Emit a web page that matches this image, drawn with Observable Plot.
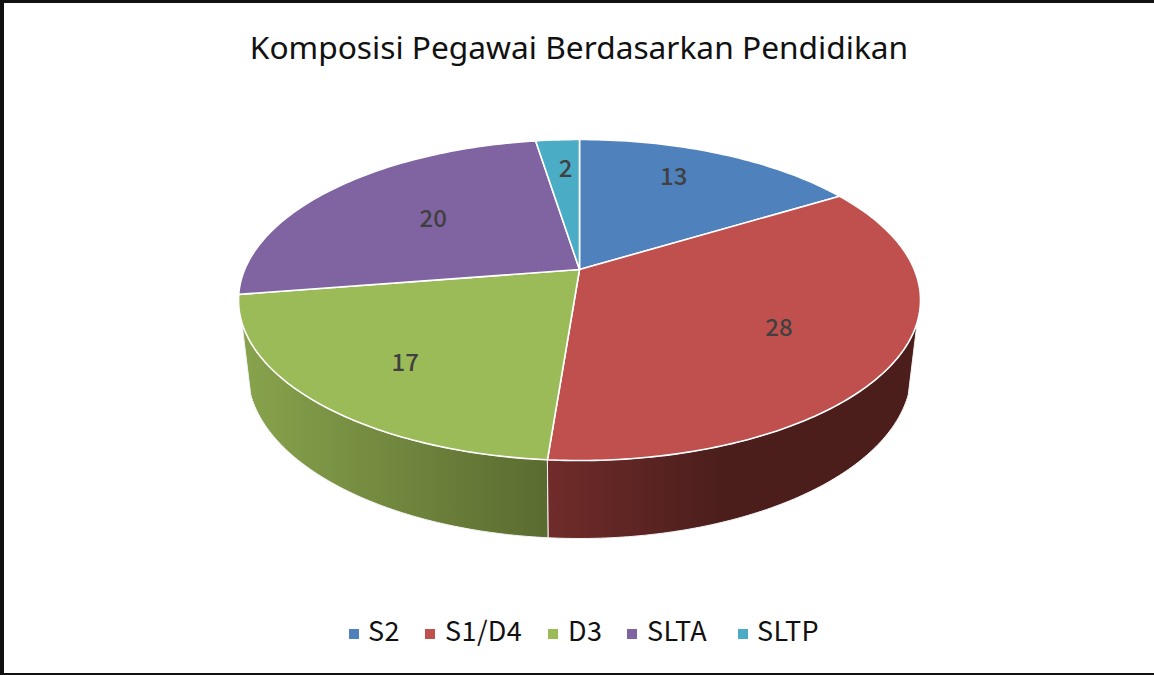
<!DOCTYPE html>
<html>
<head>
<meta charset="utf-8">
<script src="https://cdn.jsdelivr.net/npm/d3@7"></script>
<script src="https://cdn.jsdelivr.net/npm/@observablehq/plot@0.6"></script>
<style>
  html, body { margin: 0; padding: 0; background: #fff; }
  #frame { position: relative; width: 1154px; height: 675px; box-sizing: border-box; overflow: hidden;
           border-top: 3px solid #111; border-left: 4px solid #111; border-bottom: 2px solid #111; }
  #title { position: absolute; left: -4px; top: 22px; width: 1154px; text-align: center; padding-left: 4px; box-sizing: border-box;
           font: 400 31.7px "Noto Sans", sans-serif; color: #111; white-space: nowrap; }
  #chart { position: absolute; left: -4px; top: 97px; }
  #chart svg { display: block; }
  #legend { position: absolute; left: -4px; top: 608px; width: 1154px; height: 40px;
            font: 400 27px "Noto Sans CJK JP", sans-serif; letter-spacing: 0.4px; color: #111; }
  #legend span { position: absolute; top: 0; line-height: 38px; white-space: nowrap; }
  #legend i { position: absolute; top: 18px; width: 10px; height: 10px; }
</style>
</head>
<body>
<div id="frame">
  <div id="title"></div>
  <div id="chart"></div>
  <div id="legend"></div>
</div>
<script>
const chartTitle = "Komposisi Pegawai Berdasarkan Pendidikan";
const categories = ["S2", "S1/D4", "D3", "SLTA", "SLTP"];
const counts = [13, 28, 17, 20, 2];
// Sweep of each slice on the drawn ellipse (degrees).
const sweeps = [49.7, 135.7, 86.6, 80.6, 7.4];
const colors = ["#4f81bd", "#c0504d", "#9bbb59", "#8064a2", "#4bacc6"];

// Layout of the perspective pie
const W = 1154, H = 500, offsetTop = 100;
const cx = 579, cy = 299.5 - offsetTop, rx = 341, ry = 160.5;
const hubV = 30.5 / ry;                       // the hub sits above the ellipse centre
const rimScaleU = 332 / rx, rimScaleV = 167 / ry, rimShiftV = -71.5 / ry;
const labelReachU = [0.657, 0.66, 0.68, 0.58, 0.63];
const labelReachV = [0.80, 0.56, 0.69, 0.65, 0.77];
const legendSwatchX = [349, 425, 548, 627, 738];
const legendTextX = [368, 445, 568, 647, 757];

const rad = d => d * Math.PI / 180;
const top3 = phi => ({u: Math.sin(rad(phi)), v: Math.cos(rad(phi))});
const rim = phi => ({u: rimScaleU * Math.sin(rad(phi)), v: rimShiftV + rimScaleV * Math.cos(rad(phi))});
const arc = (from, to, fn) => {
  const n = Math.max(2, Math.ceil(Math.abs(to - from)));
  return d3.range(n + 1).map(i => fn(from + (to - from) * i / n));
};

let cum = 0;
const slices = categories.map((name, i) => {
  const start = cum; cum += sweeps[i];
  return {name, value: counts[i], start, end: cum, mid: (start + cum) / 2, i};
});

const faces = slices.flatMap(s => {
  const ring = [{u: 0, v: hubV}, ...arc(s.start, s.end, top3), {u: 0, v: hubV}];
  return ring.map(p => ({...p, name: s.name}));
});

const silhouette = 98;  // where the side wall meets the outline, on each side
const wall = (name, from, to) => {
  const ring = [...arc(from, to, top3), ...arc(to, from, rim)];
  ring.push(ring[0]);
  return ring.map(p => ({...p, name}));
};
const redWall = wall("S1/D4", silhouette, slices[1].end);
const greenWall = wall("D3", slices[2].start, 360 - silhouette);

const labels = slices.map(s => ({
  value: s.value,
  u: labelReachU[s.i] * Math.sin(rad(s.mid)),
  v: hubV + labelReachV[s.i] * (Math.cos(rad(s.mid)) - hubV)
}));

function gradients() {
  const ns = "http://www.w3.org/2000/svg";
  const defs = document.createElementNS(ns, "defs");
  const add = (id, stops) => {
    const g = document.createElementNS(ns, "linearGradient");
    g.setAttribute("id", id);
    stops.forEach(([o, c]) => {
      const st = document.createElementNS(ns, "stop");
      st.setAttribute("offset", o);
      st.setAttribute("stop-color", c);
      g.appendChild(st);
    });
    defs.appendChild(g);
  };
  add("wallRed", [[0, "#702c2a"], [0.47, "#4b1e1c"], [1, "#4b1e1c"]]);
  add("wallGreen", [[0, "#88a34c"], [1, "#5a6b30"]]);
  return defs;
}

const chart = Plot.plot({
  width: W, height: H,
  marginTop: 0, marginRight: 0, marginBottom: 0, marginLeft: 0,
  x: {domain: [-1, 1], range: [cx - rx, cx + rx], axis: null},
  y: {domain: [-1, 1], range: [cy + ry, cy - ry], axis: null},
  color: {domain: categories, range: colors},
  style: {background: "transparent", overflow: "visible"},
  marks: [
    gradients,
    Plot.line(greenWall, {x: "u", y: "v", fill: "url(#wallGreen)", stroke: "#f4f4f4", strokeWidth: 1, strokeLinejoin: "round"}),
    Plot.line(redWall, {x: "u", y: "v", fill: "url(#wallRed)", stroke: "#f4f4f4", strokeWidth: 1, strokeLinejoin: "round"}),
    Plot.line(faces, {x: "u", y: "v", z: "name", fill: "name", stroke: "#fff", strokeWidth: 1.6, strokeLinejoin: "round"}),
    Plot.text(labels, {x: "u", y: "v", text: d => String(d.value), fill: "#404040", fontSize: 24, fontWeight: 500,
                       fontFamily: "'Noto Sans CJK JP', sans-serif"})
  ]
});
document.getElementById("chart").appendChild(chart);
document.getElementById("title").textContent = chartTitle;

const legend = document.getElementById("legend");
categories.forEach((name, i) => {
  const sw = document.createElement("i");
  sw.style.left = legendSwatchX[i] + "px";
  sw.style.background = colors[i];
  const tx = document.createElement("span");
  tx.style.left = legendTextX[i] + "px";
  tx.textContent = name;
  legend.append(sw, tx);
});
</script>
</body>
</html>
